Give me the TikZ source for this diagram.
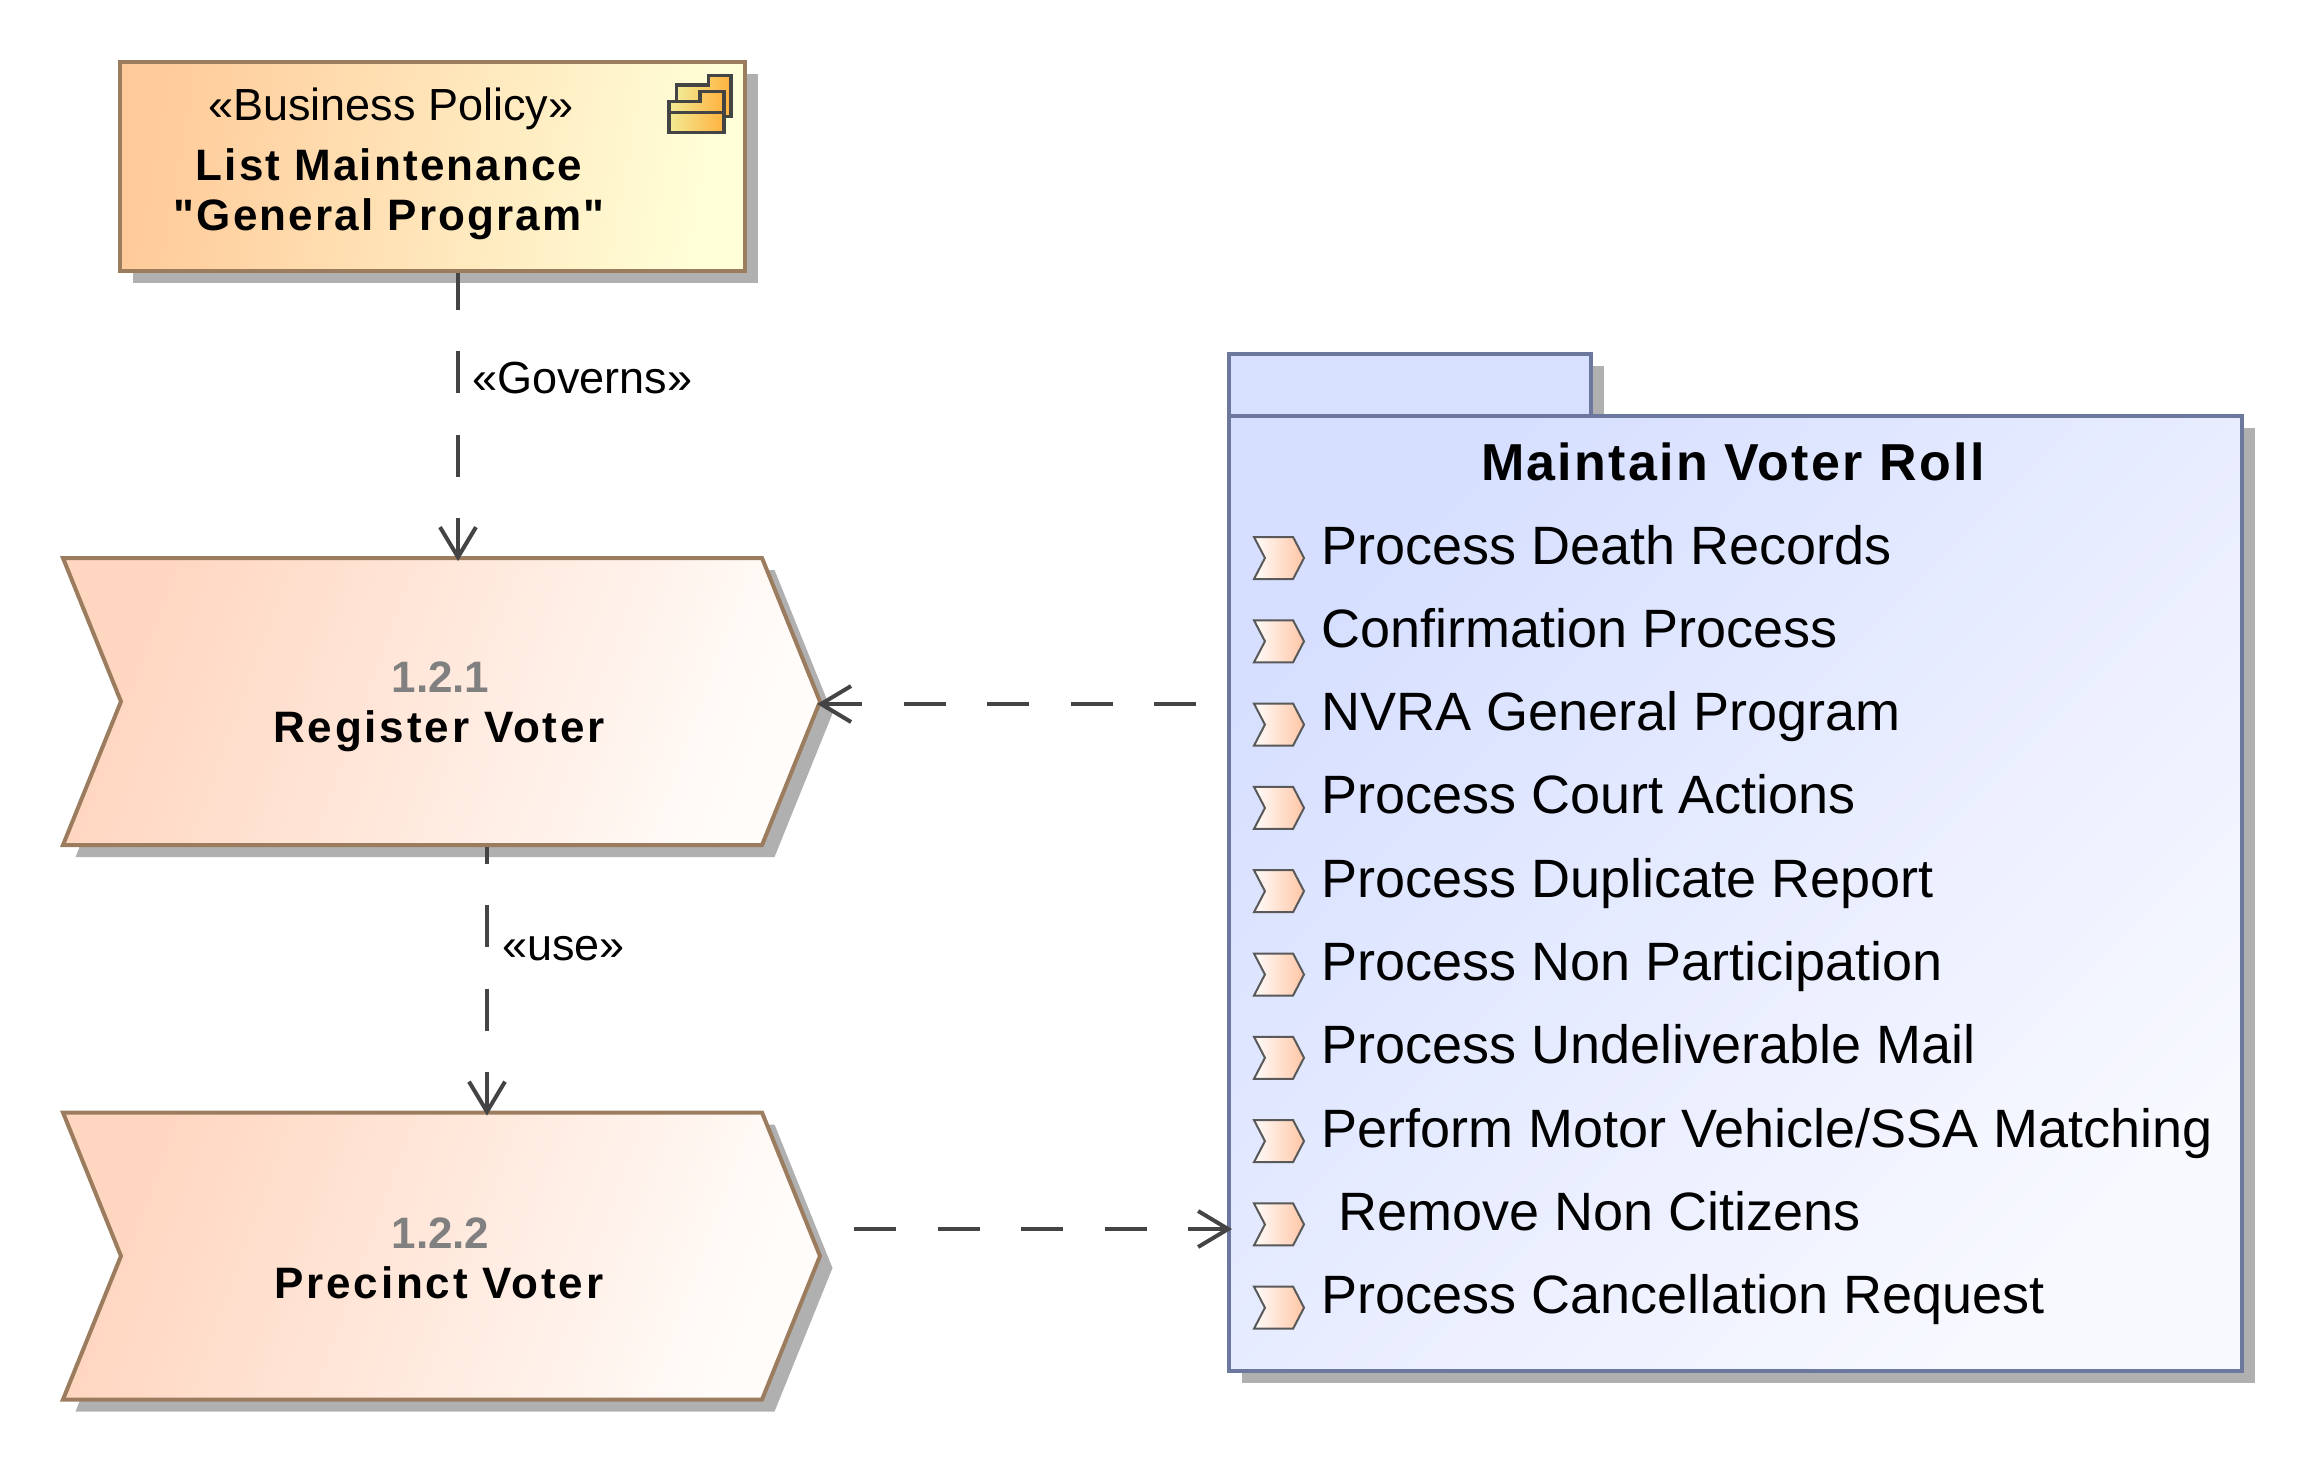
\documentclass[tikz,border=0pt]{standalone}
\usepackage{fontspec}
\setmainfont{Liberation Sans}
\newfontfamily\spacedfont{Liberation Sans}[LetterSpace=6.4]
\newfontfamily\titlefont{Liberation Sans}[LetterSpace=4.4]
\newfontfamily\polfont{Liberation Sans}[LetterSpace=4.8]
\usetikzlibrary{shapes.symbols,shadows,arrows.meta}
\definecolor{brownline}{HTML}{9C7C5E}
\definecolor{pkgline}{HTML}{6C789E}
\definecolor{conn}{HTML}{444444}
\definecolor{shad}{HTML}{B0B0B0}
\definecolor{Peach0}{HTML}{FFCB9A}
\definecolor{Peach1}{HTML}{FFFFD8}
\definecolor{Step0}{HTML}{FFD6C0}
\definecolor{Step1}{HTML}{FFFCFA}
\definecolor{StepS}{HTML}{FFC6A6}
\definecolor{Pkg0}{HTML}{D6DFFF}
\definecolor{Pkg1}{HTML}{F8F9FF}
\definecolor{PkgTab}{HTML}{D8E0FF}
\definecolor{Ico0}{HTML}{F2EA94}
\definecolor{Ico1}{HTML}{FFB23E}
\tikzset{
  x=1pt,y=-1pt,
  sh/.style={drop shadow={shadow xshift=12.5pt,shadow yshift=-12pt,fill=shad,opacity=1}},
  policybox/.style={draw=brownline,line width=4pt,rectangle,left color=Peach0,right color=Peach1,shading angle=80,minimum width=625pt,minimum height=209pt,inner sep=0pt,sh},
  bigstep/.style={draw=brownline,line width=4pt,shape=signal,signal to=east,signal from=west,signal pointer angle=136,minimum width=757pt,minimum height=287pt,inner sep=0pt,left color=Step0,right color=Step1,shading angle=70,sh},
  pkgpart/.style={draw=pkgline,line width=4pt,rectangle,inner sep=0pt,sh},
  smallstep/.style={draw=black!65,line width=2pt,shape=signal,signal to=east,signal from=west,signal pointer angle=125,minimum width=50pt,minimum height=42pt,inner sep=0pt,left color=Step1,right color=StepS},
  itemtext/.style={anchor=base west,inner sep=0pt,font=\fontsize{54}{54}\selectfont},
  dep/.style={draw=conn,line width=4pt,dash pattern=on 42pt off 41.5pt,shorten >=-5pt,-{Straight Barb[length=30pt,width=36pt,line width=4pt,line cap=butt]}},
  lab/.style={anchor=base west,inner sep=0pt,font=\fontsize{45}{45}\selectfont},
  steptext/.style={align=center,inner sep=0pt,font=\fontsize{44}{50}\selectfont\bfseries},
  icoline/.style={draw=conn,line width=3.3pt,left color=Ico0,right color=Ico1,line join=miter}
}
\begin{document}
\begin{tikzpicture}
\useasboundingbox (0,0) rectangle (2304,1462);
% policy
\node[policybox] (policy) at (432.5,166.5) {};
\node[align=center,inner sep=0pt,font=\fontsize{44}{50}\selectfont] (policytext) at (389,164) {{\fontsize{45}{50}\selectfont\hspace{4pt}«Business Policy»}\\[10pt]{\polfont\bfseries List Maintenance\hspace{4pt}}\\{\polfont\bfseries "General Program"}};
% policy icon
\path[icoline] (676.7,118) -- (676.7,85) -- (708.3,85) -- (708.3,75.7) -- (731,75.7) -- (731,116.7) -- (676.7,116.7) -- cycle;
\path[icoline] (669,112.3) -- (669,101.7) -- (700,101.7) -- (700,91.7) -- (724,91.7) -- (724,112.3) -- cycle;
\path[icoline] (669,112.3) rectangle (724,132.3);
% steps
\node[bigstep] (reg) at (441.5,701.5) {};
\node[bigstep] (pre) at (441.5,1256) {};
\node[steptext] (regtext) at (439,707) {{\color{black!50}\hspace{3pt}1.2.1}\\{\spacedfont\bfseries Register Voter}};
\node[steptext] (pretext) at (439,1258) {{\color{black!50}\hspace{3pt}1.2.2}\\{\spacedfont\bfseries Precinct Voter}};
% package
\node[pkgpart,minimum width=362pt,minimum height=62pt,fill=PkgTab] (tab) at (1410,385) {};
\node[pkgpart,minimum width=1013pt,minimum height=955pt,left color=Pkg0,right color=Pkg1,shading angle=45] (pkg) at (1735.5,893.5) {};
\node[inner sep=0pt,font=\fontsize{52}{52}\selectfont] (pkgtitle) at (1733,462) {\titlefont\bfseries Maintain Voter Roll};
\foreach \n/\t/\d [count=\i from 0] in {a/Process Death Records/0,b/Confirmation Process/0,c/NVRA General Program/0,d/Process Court Actions/0,e/Process Duplicate Report/0,f/Process Non Participation/0,g/Process Undeliverable Mail/0,h/Perform Motor Vehicle\slash SSA Matching/0,i/Remove Non Citizens/17,j/Process Cancellation Request/0}{
  \node[smallstep] (s\n) at (1279,{558+83.3*\i}) {};
  \node[itemtext] (t\n) at ({1321+\d},{564+83.3*\i}) {\t};
}
% connectors
\draw[dep,dash phase=5.5pt] (policy.south -| 458,0) -- (reg.north -| 458,0);
\node[lab] (lg) at (472,393) {«Governs»};
\draw[dep,dash phase=25.5pt] (reg.south -| 487,0) -- (pre.north -| 487,0);
\node[lab] (lu) at (502,960) {«use»};
\coordinate (c1) at (1196,704);
\draw[dep] (c1) -- (reg.east |- c1);
\coordinate (c2) at (854,1229);
\draw[dep] (c2) -- (pkg.west |- c2);
\end{tikzpicture}
\end{document}
